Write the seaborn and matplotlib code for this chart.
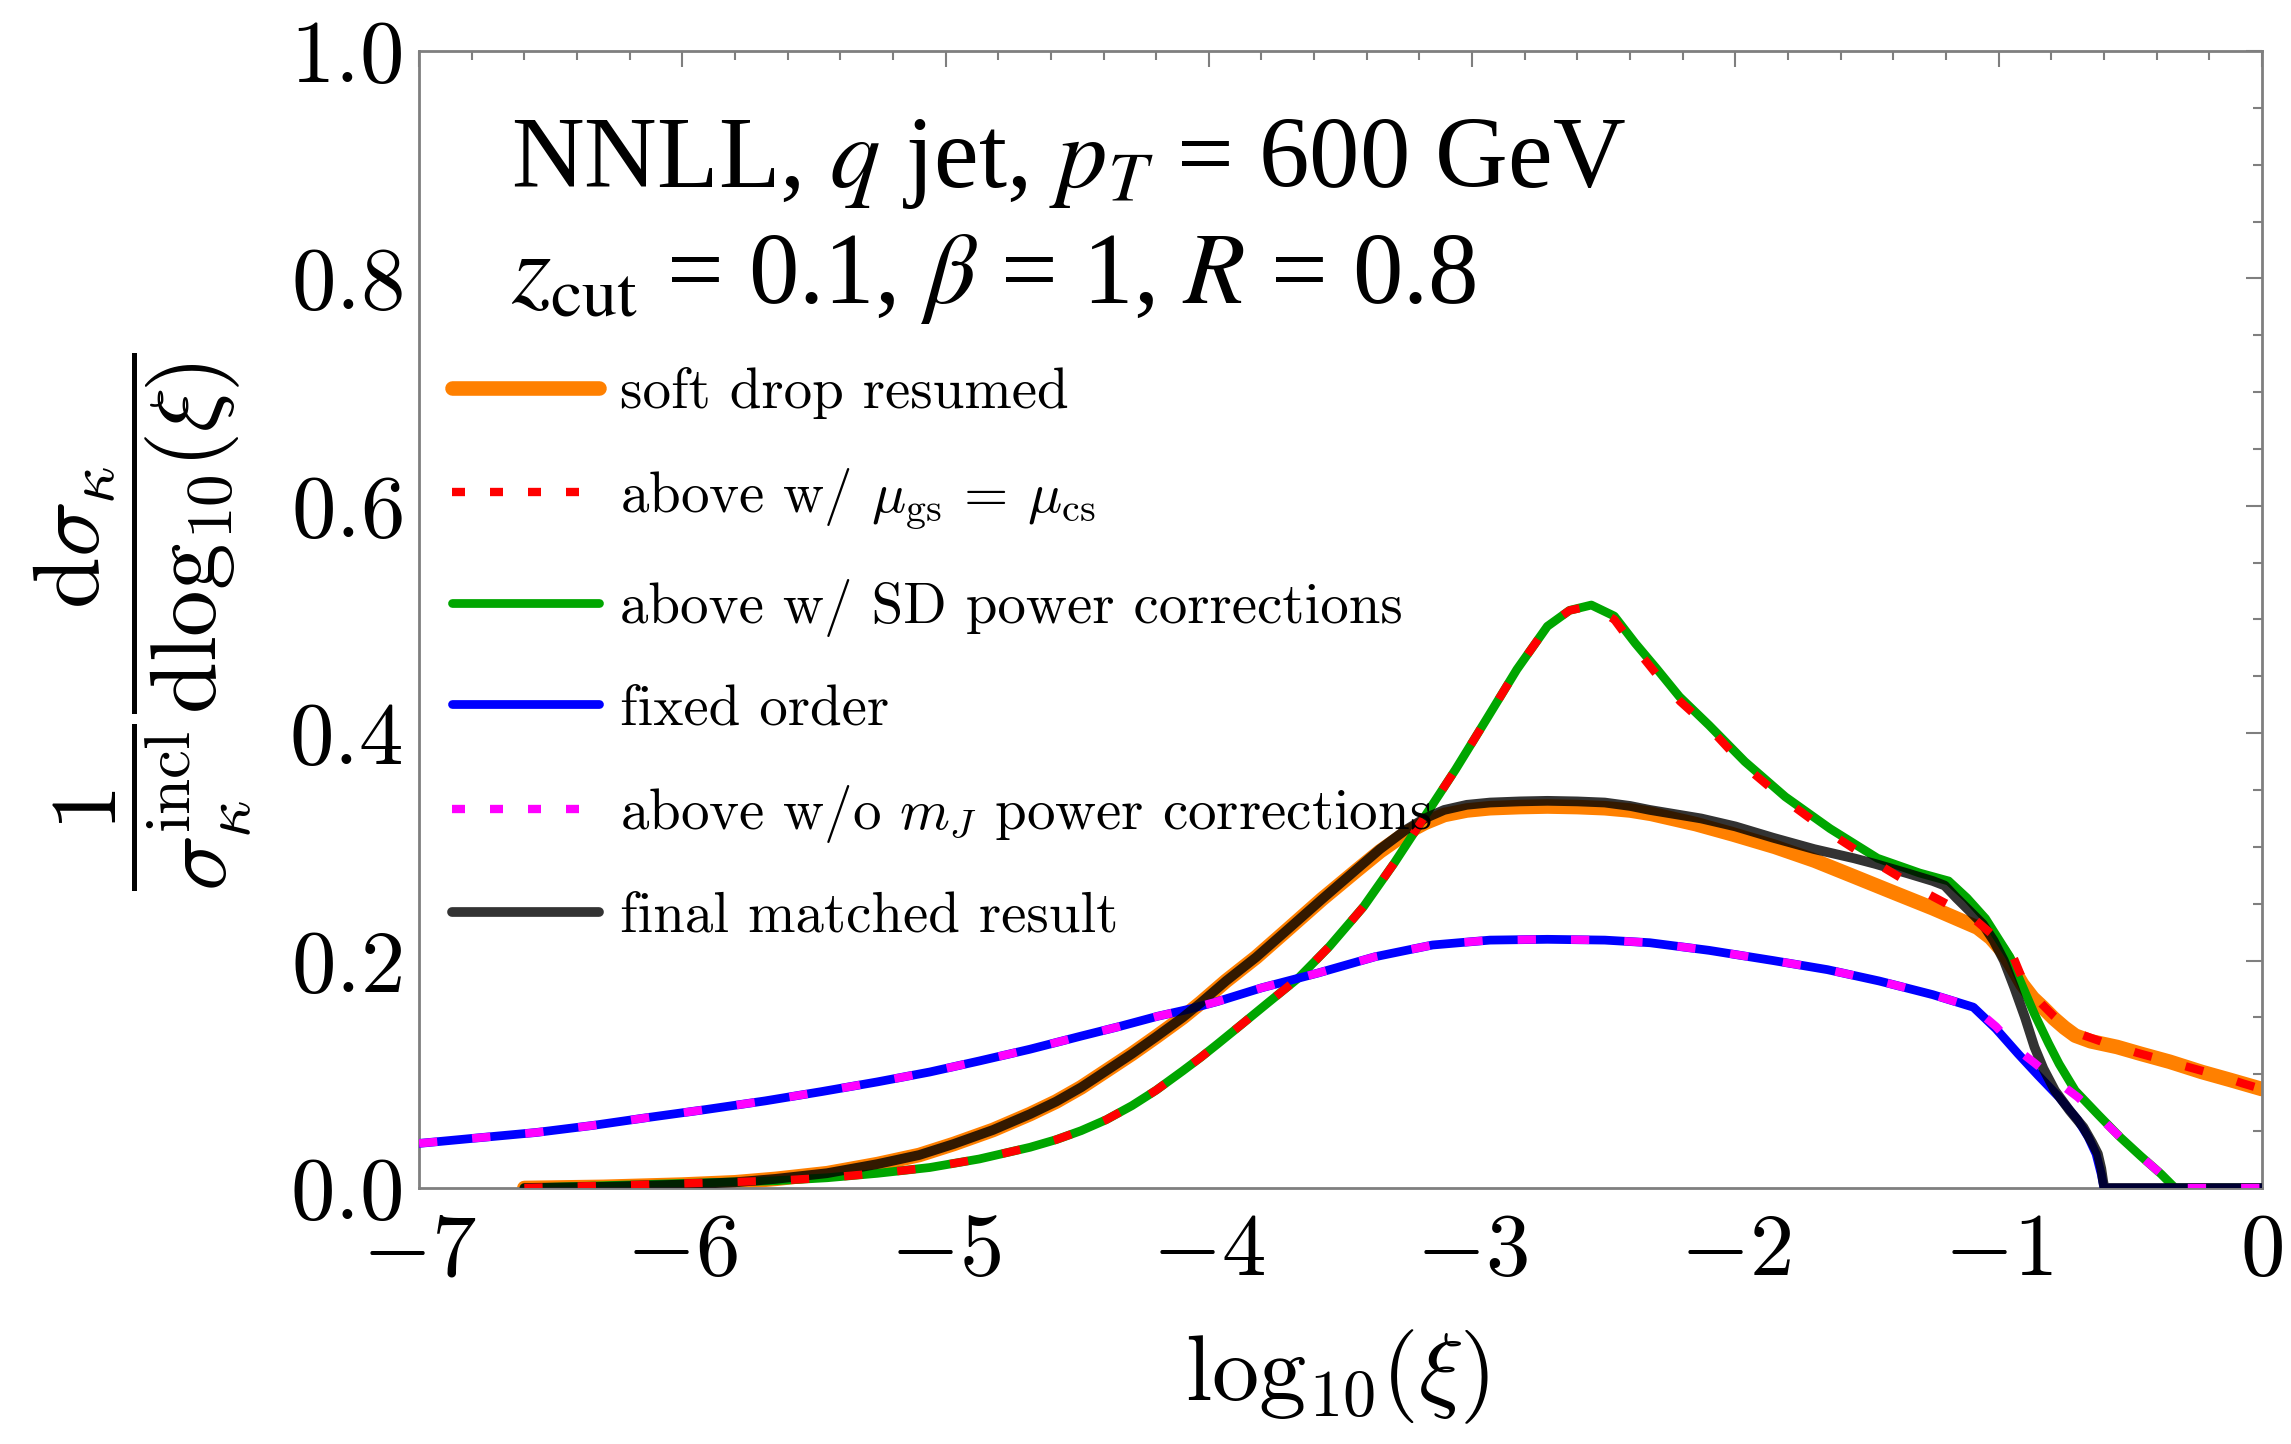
import numpy as np
import pandas as pd
import seaborn as sns
import matplotlib
matplotlib.use("Agg")
import matplotlib.pyplot as plt
from matplotlib.ticker import MultipleLocator, FuncFormatter

# ---------------- data ----------------
# final matched result
fm_x = [-6.6, -6.3, -6.0, -5.8, -5.646, -5.45, -5.259, -5.1, -4.969, -4.82, -4.679,
        -4.58, -4.485, -4.39, -4.292, -4.2, -4.099, -4.03, -3.935, -3.82, -3.702,
        -3.57, -3.44, -3.35, -3.252, -3.18, -3.106, -3.02, -2.932, -2.82, -2.714,
        -2.6, -2.496, -2.4, -2.325, -2.13, -2.0, -1.856, -1.7, -1.55, -1.468, -1.35,
        -1.25, -1.205, -1.16, -1.112, -1.06, -1.019, -0.98, -0.941, -0.9, -0.864,
        -0.83, -0.786, -0.73, -0.678, -0.645, -0.623, -0.61, -0.603, -0.598, 0.0]
fm_y = [0.0, 0.001, 0.003, 0.005, 0.008, 0.013, 0.021, 0.029, 0.0387, 0.051, 0.065,
        0.076, 0.0885, 0.103, 0.118, 0.133, 0.150, 0.163, 0.182, 0.203, 0.227,
        0.254, 0.280, 0.298, 0.315, 0.325, 0.3325, 0.337, 0.339, 0.340, 0.3405,
        0.340, 0.339, 0.336, 0.3325, 0.325, 0.318, 0.308, 0.298, 0.290, 0.285, 0.277,
        0.270, 0.266, 0.255, 0.244, 0.232, 0.2175, 0.200, 0.1765, 0.150, 0.124,
        0.105, 0.0856, 0.068, 0.0534, 0.040, 0.030, 0.017, 0.006, 0.0, 0.0]

# soft drop resumed
sd_x = [-6.6, -6.3, -6.0, -5.8, -5.646, -5.45, -5.259, -5.1, -4.969, -4.82, -4.679,
        -4.58, -4.485, -4.39, -4.292, -4.2, -4.099, -4.03, -3.935, -3.82, -3.702,
        -3.57, -3.44, -3.35, -3.252, -3.18, -3.106, -3.02, -2.932, -2.82, -2.714,
        -2.6, -2.496, -2.4, -2.32, -2.15, -2.01, -1.85, -1.7, -1.55, -1.39, -1.25,
        -1.15, -1.08, -1.03, -0.988, -0.95, -0.91, -0.87, -0.833, -0.79, -0.75,
        -0.709, -0.65, -0.55, -0.46, -0.35, -0.228, -0.12, 0.0]
sd_y = [0.0, 0.001, 0.003, 0.005, 0.008, 0.013, 0.021, 0.029, 0.0387, 0.051, 0.065,
        0.076, 0.0885, 0.103, 0.118, 0.133, 0.150, 0.163, 0.182, 0.203, 0.227,
        0.254, 0.279, 0.296, 0.312, 0.321, 0.328, 0.332, 0.334, 0.335, 0.3355,
        0.335, 0.334, 0.332, 0.329, 0.320, 0.311, 0.300, 0.288, 0.274, 0.259, 0.246,
        0.236, 0.229, 0.220, 0.209, 0.195, 0.179, 0.167, 0.159, 0.149, 0.141,
        0.134, 0.129, 0.124, 0.118, 0.111, 0.102, 0.095, 0.087]

# above w/ SD power corrections
pc_x = [-6.6, -6.3, -5.994, -5.646, -5.45, -5.259, -5.06, -4.872, -4.679, -4.58,
        -4.485, -4.39, -4.292, -4.2, -4.099, -4.03, -3.967, -3.88, -3.78, -3.659,
        -3.542, -3.412, -3.295, -3.179, -3.063, -2.946, -2.83, -2.714, -2.63, -2.547,
        -2.46, -2.38, -2.3, -2.212, -2.1, -1.964, -1.81, -1.64, -1.46, -1.3, -1.19,
        -1.12, -1.05, -0.957, -0.864, -0.81, -0.77, -0.709, -0.62, -0.538, -0.46,
        -0.383, -0.33, 0.0]
pc_y = [0.0, 0.002, 0.004, 0.0064, 0.009, 0.0129, 0.018, 0.0255, 0.0358, 0.0425,
        0.0504, 0.060, 0.0724, 0.086, 0.103, 0.115, 0.1266, 0.143, 0.162, 0.1848,
        0.2124, 0.2475, 0.286, 0.327, 0.368, 0.412, 0.456, 0.494, 0.508, 0.5127,
        0.503, 0.479, 0.457, 0.432, 0.407, 0.375, 0.344, 0.316, 0.290, 0.277, 0.270,
        0.255, 0.237, 0.203, 0.153, 0.127, 0.109, 0.0856, 0.064, 0.0446, 0.028,
        0.0123, 0.0, 0.0]

# above w/ mu_gs = mu_cs
mu_x = [-6.6, -6.3, -5.994, -5.646, -5.45, -5.259, -5.06, -4.872, -4.679, -4.58,
        -4.485, -4.39, -4.292, -4.2, -4.099, -4.03, -3.967, -3.88, -3.78, -3.659,
        -3.542, -3.412, -3.295, -3.179, -3.063, -2.946, -2.83, -2.714, -2.63, -2.547,
        -2.46, -2.38, -2.3, -2.21, -2.1, -1.964, -1.81, -1.64, -1.46, -1.28, -1.1,
        -1.03, -0.99, -0.944, -0.91, -0.87, -0.837, -0.79, -0.75, -0.709, -0.674,
        -0.6, -0.476, -0.35, -0.274, -0.15, -0.073, 0.0]
mu_y = [0.0, 0.002, 0.004, 0.0064, 0.009, 0.0129, 0.018, 0.0255, 0.0358, 0.0425,
        0.0504, 0.060, 0.0724, 0.086, 0.103, 0.115, 0.1266, 0.143, 0.162, 0.1848,
        0.2124, 0.2475, 0.286, 0.327, 0.368, 0.412, 0.456, 0.494, 0.508, 0.512,
        0.500, 0.475, 0.452, 0.428, 0.405, 0.371, 0.341, 0.312, 0.285, 0.260, 0.238,
        0.224, 0.213, 0.203, 0.184, 0.170, 0.162, 0.151, 0.143, 0.137, 0.134,
        0.128, 0.119, 0.111, 0.106, 0.098, 0.092, 0.087]

# fixed order
fo_x = [-7.0, -6.78, -6.555, -6.34, -6.13, -5.91, -5.685, -5.47, -5.259, -5.06,
        -4.872, -4.68, -4.485, -4.34, -4.195, -4.08, -3.967, -3.8, -3.586, -3.368,
        -3.25, -3.15, -2.932, -2.714, -2.496, -2.325, -2.1, -1.856, -1.65, -1.453,
        -1.25, -1.096, -1.01, -0.926, -0.85, -0.771, -0.7, -0.66, -0.63, -0.61,
        -0.6, 0.0]
fo_y = [0.0392, 0.044, 0.0488, 0.055, 0.062, 0.069, 0.0766, 0.0848, 0.0933, 0.102,
        0.1117, 0.122, 0.1336, 0.142, 0.151, 0.157, 0.164, 0.176, 0.189, 0.2034,
        0.209, 0.2137, 0.218, 0.2187, 0.218, 0.2157, 0.209, 0.200, 0.192, 0.182,
        0.170, 0.159, 0.140, 0.118, 0.099, 0.080, 0.060, 0.045, 0.030, 0.012,
        0.0, 0.0]

# above w/o m_J power corrections
nm_x = [-7.0, -6.78, -6.555, -6.34, -6.13, -5.91, -5.685, -5.47, -5.259, -5.06,
        -4.872, -4.68, -4.485, -4.34, -4.195, -4.08, -3.967, -3.8, -3.586, -3.368,
        -3.25, -3.15, -2.932, -2.714, -2.496, -2.325, -2.1, -1.856, -1.65, -1.453,
        -1.25, -1.096, -1.01, -0.93, -0.864, -0.78, -0.7, -0.62, -0.538, -0.46,
        -0.383, -0.33, 0.0]
nm_y = [0.0392, 0.044, 0.0488, 0.055, 0.062, 0.069, 0.0766, 0.0848, 0.0933, 0.102,
        0.1117, 0.122, 0.1336, 0.142, 0.151, 0.157, 0.164, 0.176, 0.189, 0.2034,
        0.209, 0.2137, 0.218, 0.2187, 0.218, 0.2157, 0.209, 0.200, 0.192, 0.182,
        0.170, 0.159, 0.142, 0.122, 0.110, 0.094, 0.080, 0.063, 0.0446, 0.028,
        0.0123, 0.0, 0.0]

labels = ["soft drop resumed",
          r"above w/ $\mu_{\rm gs}$ = $\mu_{\rm cs}$",
          "above w/ SD power corrections",
          "fixed order",
          r"above w/o $m_J$ power corrections",
          "final matched result"]

x_ticks = [-7, -6, -5, -4, -3, -2, -1, 0]
y_ticks = [0.0, 0.2, 0.4, 0.6, 0.8, 1.0]

# ---------------- style ----------------
sns.set_theme(style="white")
plt.rcParams["font.family"] = ["serif"]
plt.rcParams["font.serif"] = ["cmr10", "DejaVu Serif"]
plt.rcParams["mathtext.fontset"] = "cm"
plt.rcParams["axes.formatter.use_mathtext"] = True
for k in ["text.color", "axes.labelcolor", "xtick.labelcolor", "ytick.labelcolor"]:
    plt.rcParams[k] = "black"

fig = plt.figure(figsize=(22.91, 14.44), dpi=100)
ax = fig.add_axes([0.1829, 0.1773, 0.8044, 0.7874])

ORANGE = "#FF8000"
RED = "#FF0000"
GREEN = "#00A600"
BLUE = "#0000FF"
MAGENTA = "#FF00FF"
dots = (0, (2.2, 4.2))

sns.lineplot(x=sd_x, y=sd_y, ax=ax, color=ORANGE, lw=10.5, label=labels[0],
             estimator=None, sort=False, zorder=1)
sns.lineplot(x=pc_x, y=pc_y, ax=ax, color=GREEN, lw=6.3, label=labels[2],
             estimator=None, sort=False, zorder=2)
sns.lineplot(x=fo_x, y=fo_y, ax=ax, color=BLUE, lw=6.3, label=labels[3],
             estimator=None, sort=False, zorder=3)
sns.lineplot(x=fm_x, y=fm_y, ax=ax, color="black", alpha=0.8, lw=7, label=labels[5],
             estimator=None, sort=False, zorder=4)
sns.lineplot(x=mu_x, y=mu_y, ax=ax, color=RED, lw=6.0, linestyle=dots, label=labels[1],
             estimator=None, sort=False, zorder=5, dash_capstyle="butt")
sns.lineplot(x=nm_x, y=nm_y, ax=ax, color=MAGENTA, lw=6.0, linestyle=dots, label=labels[4],
             estimator=None, sort=False, zorder=6, dash_capstyle="butt")

ax.set_xlim(-7, 0)
ax.set_ylim(0, 1.0)
ax.set_xticks(x_ticks)
ax.set_yticks(y_ticks)
ax.xaxis.set_minor_locator(MultipleLocator(0.2))
ax.yaxis.set_minor_locator(MultipleLocator(0.05))
ax.xaxis.set_major_formatter(FuncFormatter(lambda v, p: r"$%d$" % round(v)))
ax.yaxis.set_major_formatter(FuncFormatter(lambda v, p: r"$%.1f$" % v))

GRAY = "#7F7F7F"
for s in ax.spines.values():
    s.set_color(GRAY)
    s.set_linewidth(2)
ax.tick_params(which="both", direction="in", top=True, right=True, color=GRAY,
               width=1.5, labelsize=64)
ax.tick_params(which="major", length=11.5)
ax.tick_params(which="minor", length=6.5)
ax.tick_params(axis="x", which="major", pad=18)
ax.tick_params(axis="y", which="major", pad=12)

ax.set_xlabel(r"$\mathrm{log}_{10}(\xi)$", fontsize=68, va="top")
ax.xaxis.set_label_coords(0.498, -0.123)
ax.set_ylabel(r"$\dfrac{1}{\sigma_\kappa^{\rm incl}}\dfrac{{\rm d}\sigma_\kappa}{{\rm d}\mathrm{log}_{10}(\xi)}$",
              fontsize=67, va="center")
ax.yaxis.set_label_coords(-0.150, 0.498)

# annotation
ax.text(0.05, 0.880, r"NNLL, $q$ jet, $p_T$ = 600 GeV", transform=ax.transAxes,
        fontsize=72.5, family="Liberation Serif", math_fontfamily="stix",
        ha="left", va="baseline")
ax.text(0.05, 0.778, r"$z_{\rm cut}$ = 0.1, $\beta$ = 1, $R$ = 0.8", transform=ax.transAxes,
        fontsize=72.5, family="Liberation Serif", math_fontfamily="stix",
        ha="left", va="baseline")

handles, labs = ax.get_legend_handles_labels()
order = [labs.index(l) for l in labels]
leg = ax.legend([handles[i] for i in order], [labs[i] for i in order],
                loc="upper left", bbox_to_anchor=(0.018, 0.722), frameon=False,
                fontsize=41, handlelength=2.57, handletextpad=0.37, labelspacing=0.83,
                borderpad=0, borderaxespad=0)
for ln in leg.get_lines():
    if ln.get_linestyle() not in ("-", "solid"):
        ln.set_dashes([1.56, 3.0])

fig.savefig("out.png", dpi=100)
